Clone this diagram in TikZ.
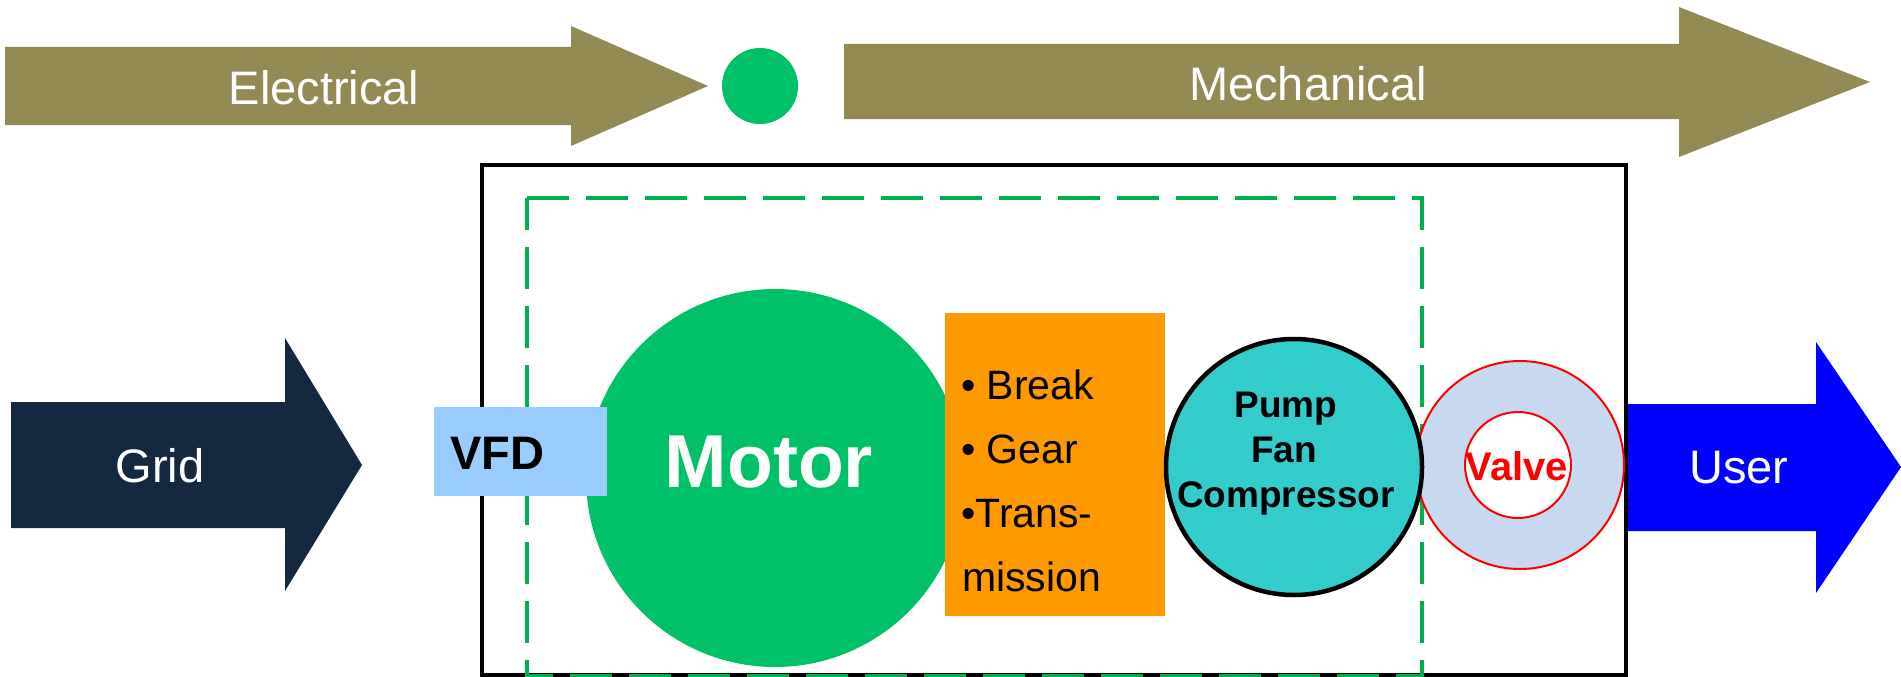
\documentclass[tikz,border=0pt]{standalone}
\usepackage{fontspec}
\setmainfont{Liberation Sans}
\definecolor{flowolive}{HTML}{948A54}
\definecolor{dotgreen}{HTML}{00C167}
\definecolor{dashgreen}{HTML}{00B050}
\definecolor{gridnavy}{HTML}{142841}
\definecolor{vfdblue}{HTML}{99CCFF}
\definecolor{gearorange}{HTML}{FF9900}
\definecolor{pumpteal}{HTML}{33CCCC}
\definecolor{valvefill}{HTML}{C6D9F1}
\definecolor{userblue}{HTML}{0000FF}
\definecolor{valvered}{HTML}{FF0000}
\begin{document}
\begin{tikzpicture}[x=1pt,y=-1pt,
  lbl/.style={anchor=base, inner sep=0pt, text=white, font=\fontsize{47}{47}\selectfont},
  itemtxt/.style={anchor=base west, inner sep=0pt, text=black, font=\fontsize{41}{41}\selectfont},
  pumptxt/.style={anchor=base, inner sep=0pt, text=black, font=\bfseries\fontsize{37}{37}\selectfont},
  disc/.style={circle, inner sep=0pt, outer sep=0pt},
  block/.style={rectangle, inner sep=0pt, outer sep=0pt, anchor=north west}]
\useasboundingbox (0,0) rectangle (1901,677);

% energy-form banners along the top
\fill[flowolive] (5,47) -- (571,47) -- (571,26) -- (708,86) -- (571,146) -- (571,125) -- (5,125) -- cycle;
\fill[flowolive] (844,44) -- (1679,44) -- (1679,7) -- (1870,82) -- (1679,157) -- (1679,119) -- (844,119) -- cycle;
\node[disc, fill=dotgreen, minimum size=76] (dot) at (760,86) {};
\node[lbl] (elec) at (324,104) {Electrical};
\node[lbl] (mech) at (1308,100) {Mechanical};

% system boundary and drive-train boundary
\draw[line width=4.5] (482,165) rectangle (1626,675);
\draw[dashgreen, line width=4.5, dash pattern=on 42 off 17] (527,198) -- (1422,198) -- (1422,676) -- (527,676) -- cycle;

% supply and demand arrows
\fill[gridnavy] (11,402) -- (285,402) -- (285,338) -- (362,465) -- (285,591) -- (285,528) -- (11,528) -- cycle;
\fill[userblue] (1628,404) -- (1816,404) -- (1816,342) -- (1901,467) -- (1816,593) -- (1816,531) -- (1628,531) -- cycle;
\node[lbl] (grid) at (160,482) {Grid};
\node[lbl] (user) at (1739,483) {User};

% drive-train components
\node[disc, fill=dotgreen, minimum size=378] (motor) at (775,478) {};
\node[block, fill=vfdblue, minimum width=173, minimum height=89] (vfd) at (434,407) {};
\node[block, fill=gearorange, minimum width=220, minimum height=303] (gear) at (945,313) {};
\node[disc, fill=valvefill, draw=valvered, line width=2, minimum size=208] (valve) at (1520,465) {};
\node[disc, fill=white, draw=valvered, line width=2, minimum size=106] (valvein) at (1518,465) {};
\node[disc, fill=pumpteal, draw=black, line width=4.5, minimum size=256] (pump) at (1294,467) {};

% labels
\node[anchor=base west, inner sep=0pt, font=\bfseries\fontsize{47}{47}\selectfont] (vfdtxt) at (450,469) {VFD};
\node[anchor=base, inner sep=0pt, text=white, font=\bfseries\fontsize{75}{75}\selectfont] (motortxt) at (769,487) {Motor};
\node[itemtxt] (brk) at (961,399) {• Break};
\node[itemtxt] (gr) at (961,463) {• Gear};
\node[itemtxt] (trans) at (961,527) {•Trans-};
\node[itemtxt] (miss) at (962,591) {mission};
\node[pumptxt] (pumpa) at (1286,417) {Pump};
\node[pumptxt] (pumpb) at (1284,462) {Fan};
\node[pumptxt] (pumpc) at (1286,507) {Compressor};
\node[anchor=base, inner sep=0pt, text=valvered, font=\bfseries\fontsize{40}{40}\selectfont] (valvetxt) at (1517,480) {Valve};
\end{tikzpicture}
\end{document}
